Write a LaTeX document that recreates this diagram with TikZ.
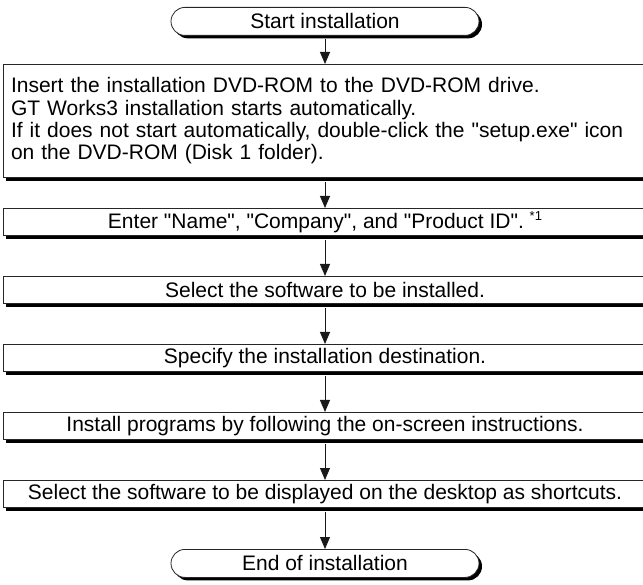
\documentclass[tikz,border=0pt]{standalone}
\usepackage{fontspec}
\setmainfont{Liberation Sans}
\usetikzlibrary{arrows.meta,shapes.misc,shadows}
\newcommand{\qq}[1]{\textquotedbl#1\textquotedbl}
\begin{document}
\begin{tikzpicture}[x=1pt,y=1pt,
  txt/.style={font=\fontsize{21}{22.3}\selectfont},
  shadowed/.style={drop shadow={shadow xshift=3pt,shadow yshift=-4pt,fill=black,opacity=1}},
  procbox/.style={txt,draw=black!85,line width=0.8pt,fill=white,shadowed,
    minimum width=644pt,minimum height=27pt,inner sep=0pt,anchor=north},
  termbox/.style={txt,draw=black!85,line width=0.8pt,fill=white,rounded rectangle,
    drop shadow={shadow xshift=3pt,shadow yshift=-3pt,fill=black,opacity=1},
    minimum width=308pt,minimum height=28pt,inner sep=0pt,anchor=north},
  arr/.style={line width=0.9pt,draw=black!90,-{Triangle[length=12pt,width=10pt]}}]
\useasboundingbox (0,0) rectangle (643,-585);
\clip (0,0) rectangle (643,-585);
\node[termbox] (start) at (325,-7) {Start installation};
\node[procbox,minimum height=113pt,text width=628pt,align=left,inner xsep=8pt] (b1) at (325,-64)
  {Insert the installation DVD-ROM to the DVD-ROM drive.\\
   GT Works3 installation starts automatically.\\
   If it does not start automatically, double-click the \qq{setup.exe} icon\\
   on the DVD-ROM (Disk 1 folder).};
\node[procbox] (b2) at (325,-208) {Enter \qq{Name}, \qq{Company}, and \qq{Product ID}. \raisebox{0.75ex}{\fontsize{13}{13}\selectfont *1}};
\node[procbox] (b3) at (325,-276) {Select the software to be installed.};
\node[procbox] (b4) at (325,-344) {Specify the installation destination.};
\node[procbox] (b5) at (325,-412) {Install programs by following the on-screen instructions.};
\node[procbox] (b6) at (325,-480) {Select the software to be displayed on the desktop as shortcuts.};
\node[termbox] (end) at (325,-549) {End of installation};
\draw[arr] ([yshift=-3pt]start.south) -- (b1.north);
\draw[arr] ([yshift=-4pt]b1.south) -- (b2.north);
\draw[arr] ([yshift=-4pt]b2.south) -- (b3.north);
\draw[arr] ([yshift=-4pt]b3.south) -- (b4.north);
\draw[arr] ([yshift=-4pt]b4.south) -- (b5.north);
\draw[arr] ([yshift=-4pt]b5.south) -- (b6.north);
\draw[arr] ([yshift=-4pt]b6.south) -- (end.north);
\end{tikzpicture}
\end{document}
